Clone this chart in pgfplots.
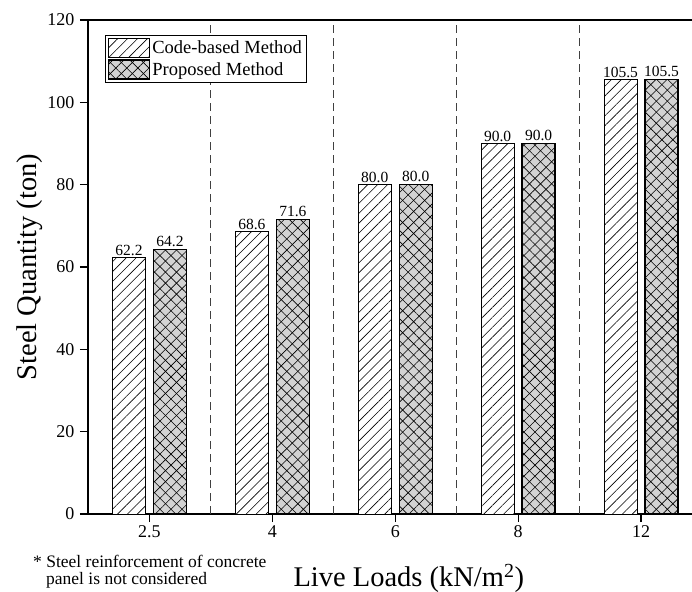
\documentclass[border=0pt]{standalone}
\usepackage{pgfplots}
\pgfplotsset{compat=1.18}
\usetikzlibrary{patterns.meta}
\usepackage{fontspec}
\setmainfont{Liberation Serif}
\definecolor{hatchgray}{RGB}{211,211,211}
\begin{document}
\begin{tikzpicture}
\begin{axis}[
  name=ax,
  scale only axis,
  width=614.5bp, height=494bp,
  xmin=-0.5, xmax=4.5,
  ymin=0, ymax=120,
  ytick={0,20,40,60,80,100,120},
  xtick={0,1,2,3,4},
  xticklabels={2.5,4,6,8,12},
  extra x ticks={0.5,1.5,2.5,3.5},
  extra x tick labels={},
  extra x tick style={grid=major, major grid style={black!75, line width=0.8bp, dash pattern=on 8bp off 5bp}, major tick length=0pt},
  tick align=outside,
  xtick pos=bottom, ytick pos=left,
  major tick length=8bp,
  every tick/.style={black, line width=1.3bp},
  axis line style={line width=1.4bp},
  /pgf/number format/assume math mode=true,
  tick label style={font=\fontsize{18bp}{20bp}\selectfont},
  yticklabel style={xshift=-2bp},
  ybar=8bp,
  bar width=33bp,
  nodes near coords,
  nodes near coords style={font=\fontsize{15.5bp}{17bp}\selectfont, /pgf/number format/fixed, /pgf/number format/precision=1, /pgf/number format/fixed zerofill, /pgf/number format/assume math mode=true, yshift=-1.5bp},
  xlabel={Live Loads (kN/m\textsuperscript{2})},
  ylabel={Steel Quantity (ton)},
  every axis x label/.style={at={(rel axis cs:0.522,0)}, anchor=center, yshift=-64bp, font=\fontsize{28.5bp}{30bp}\selectfont},
  every axis y label/.style={at={(rel axis cs:0,0.5)}, anchor=center, xshift=-58bp, rotate=90, font=\fontsize{28.5bp}{30bp}\selectfont},
  legend style={at={(rel axis cs:0,1)}, anchor=north west, xshift=17bp, yshift=-15bp, draw=black, line width=1bp, font=\fontsize{18.5bp}{20bp}\selectfont, row sep=1.5bp, inner sep=2.5bp},
  legend cell align=left,
  legend image code/.code={\draw[#1] (0bp,-9.5bp) rectangle (41bp,9.5bp);},
]
\addplot[draw=black, line width=0.9bp, fill=white, postaction={pattern={Lines[angle=45,distance=7bp,line width=0.6bp]}}]
  coordinates {(0,62.2) (1,68.6) (2,80.0) (3,90.0) (4,105.5)};
\addplot[draw=black, line width=1.4bp, fill=hatchgray, postaction={pattern={Lines[angle=45,distance=7.8bp,line width=0.6bp]}}, postaction={pattern={Lines[angle=-45,distance=7.8bp,line width=0.6bp]}}]
  coordinates {(0,64.2) (1,71.6) (2,80.0) (3,90.0) (4,105.5)};
\legend{Code-based Method, Proposed Method}
\coordinate (bl) at (rel axis cs:0,0);
\end{axis}
\node[anchor=north west, align=left, inner sep=0pt, font=\fontsize{17.5bp}{17bp}\selectfont] at ([shift={(-55bp,-41bp)}]bl) {* Steel reinforcement of concrete\\\hspace*{13bp}panel is not considered};
\pgfresetboundingbox
\path ([shift={(-88bp,-78bp)}]bl) rectangle ([shift={(604bp,514bp)}]bl);
\end{tikzpicture}
\end{document}
